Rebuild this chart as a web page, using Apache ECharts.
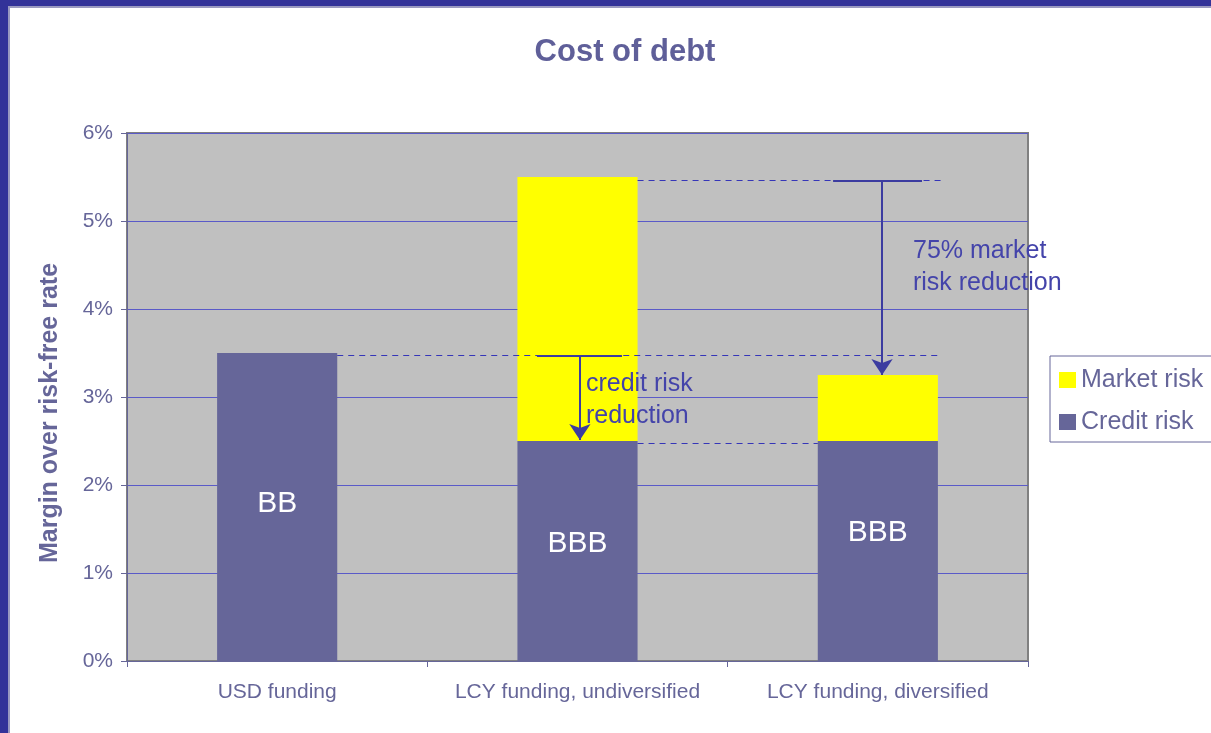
<!DOCTYPE html>
<html>
<head>
<meta charset="utf-8">
<script src="https://cdn.jsdelivr.net/npm/echarts@6/dist/echarts.min.js"></script>
<style>
html,body{margin:0;padding:0;background:#fff;}
#chart{width:1211px;height:733px;}
</style>
</head>
<body>
<div id="chart"></div>
<script>
// ---- data ----
const categories = ['USD funding', 'LCY funding, undiversified', 'LCY funding, diversified'];
const creditRisk = [3.5, 2.5, 2.5];
const marketRisk = [null, 3.0, 0.75];
const ratings = ['BB', 'BBB', 'BBB'];
const yMin = 0, yMax = 6, yInterval = 1;
// annotation geometry in data units (x: category units 0..3, y: percent)
const guideLines = [
  [0.70, 3.47, 2.71, 3.47],
  [1.70, 5.46, 2.71, 5.46],
  [1.70, 2.47, 2.30, 2.47]
];
const arrowBars = [
  [1.365, 3.47, 1.648, 3.47],
  [2.351, 5.46, 2.647, 5.46]
];
const arrows = [
  [1.508, 3.47, 1.508, 2.51],
  [2.514, 5.46, 2.514, 3.25]
];
const notes = [
  [1.528, 2.97, 'credit risk\nreduction'],
  [2.617, 4.48, '75% market\nrisk reduction']
];

const FONT = "'Liberation Sans', Arial, sans-serif";
const TXT = '#666699';
const chart = echarts.init(document.getElementById('chart'), null, {renderer: 'canvas'});

const labelShift = [-3, -7, -18];

const option = {
  animation: false,
  textStyle: {fontFamily: FONT},
  title: {
    text: 'Cost of debt',
    left: 620, top: 32, textAlign: 'center',
    textStyle: {color: '#5F5F99', fontSize: 31, fontWeight: 'bold', fontFamily: FONT}
  },
  legend: {
    orient: 'vertical',
    left: 1050, top: 356,
    data: ['Market risk', 'Credit risk'],
    padding: [11, 14, 7, 9],
    borderColor: '#666699', borderWidth: 1,
    itemWidth: 17, itemHeight: 16, itemGap: 16,
    icon: 'rect',
    textStyle: {color: TXT, fontSize: 25, lineHeight: 26, fontFamily: FONT},
    selectedMode: false
  },
  grid: {
    left: 127, top: 133, width: 901, height: 528,
    show: true, backgroundColor: '#C0C0C0', borderColor: '#808080', borderWidth: 2
  },
  xAxis: [
    {
      type: 'category', data: categories,
      axisLine: {lineStyle: {color: '#666699', width: 1}},
      axisTick: {show: true, length: 6, lineStyle: {color: '#666699'}},
      axisLabel: {color: TXT, fontSize: 21, margin: 21, interval: 0, fontFamily: FONT},
      splitLine: {show: false}
    },
    {
      type: 'value', min: 0, max: 3, show: false,
      splitLine: {show: false}
    }
  ],
  yAxis: {
    type: 'value', min: yMin, max: yMax, interval: yInterval,
    name: 'Margin over risk-free rate',
    nameLocation: 'middle', nameGap: 64,
    nameTextStyle: {color: TXT, fontSize: 25, fontWeight: 'bold', fontFamily: FONT, padding: [0, 32, 0, 0]},
    axisLine: {show: true, lineStyle: {color: '#666699', width: 1}},
    axisTick: {show: true, length: 6, lineStyle: {color: '#666699'}},
    axisLabel: {color: TXT, fontSize: 21, margin: 14, formatter: '{value}%', fontFamily: FONT},
    splitLine: {show: true, lineStyle: {color: '#5A5AC8', width: 1.2}}
  },
  series: [
    {
      name: 'Credit risk', type: 'bar', stack: 'total', barWidth: '40%',
      itemStyle: {color: '#666699'},
      data: creditRisk.map((v, i) => ({value: v, label: {offset: [0, labelShift[i]]}})),
      label: {
        show: true, position: 'inside', color: '#ffffff', fontSize: 30, fontFamily: FONT,
        formatter: p => ratings[p.dataIndex]
      },
      silent: true
    },
    {
      name: 'Market risk', type: 'bar', stack: 'total', barWidth: '40%',
      itemStyle: {color: '#FFFF00'},
      data: marketRisk,
      silent: true
    },
    {
      name: 'annotations', type: 'line', xAxisIndex: 1, yAxisIndex: 0,
      data: [], silent: true, symbol: 'none',
      markLine: {
        silent: true, animation: false,
        label: {show: false},
        emphasis: {disabled: true},
        data: [
          ...guideLines.map(g => [
            {coord: [g[0], g[1]], symbol: 'none', lineStyle: {color: '#3535B8', width: 1.2, type: [6, 5]}},
            {coord: [g[2], g[3]], symbol: 'none'}
          ]),
          ...arrowBars.map(g => [
            {coord: [g[0], g[1]], symbol: 'none', lineStyle: {color: '#3C3CA0', width: 2, type: 'solid'}},
            {coord: [g[2], g[3]], symbol: 'none'}
          ]),
          ...arrows.map(g => [
            {coord: [g[0], g[1]], symbol: 'none', lineStyle: {color: '#3C3CA0', width: 2, type: 'solid'}},
            {coord: [g[2], g[3]], symbol: 'arrow', symbolSize: [16, 16]}
          ])
        ]
      },
      markPoint: {
        silent: true, animation: false,
        symbol: 'rect', symbolSize: 0,
        label: {
          show: true, position: 'right', distance: 0,
          color: '#4444AA', fontSize: 25, lineHeight: 32, fontFamily: FONT,
          formatter: p => p.data.note
        },
        data: notes.map(n => ({coord: [n[0], n[1]], note: n[2]}))
      }
    }
  ],
  graphic: [
    {type: 'rect', shape: {x: 0, y: 0, width: 1211, height: 8}, style: {fill: '#9A9AC0'}, silent: true},
    {type: 'rect', shape: {x: 0, y: 0, width: 10, height: 733}, style: {fill: '#9A9AC0'}, silent: true},
    {type: 'rect', shape: {x: 0, y: 0, width: 1211, height: 6}, style: {fill: '#333399'}, silent: true},
    {type: 'rect', shape: {x: 0, y: 0, width: 8, height: 733}, style: {fill: '#333399'}, silent: true}
  ]
};
chart.setOption(option);
</script>
</body>
</html>
